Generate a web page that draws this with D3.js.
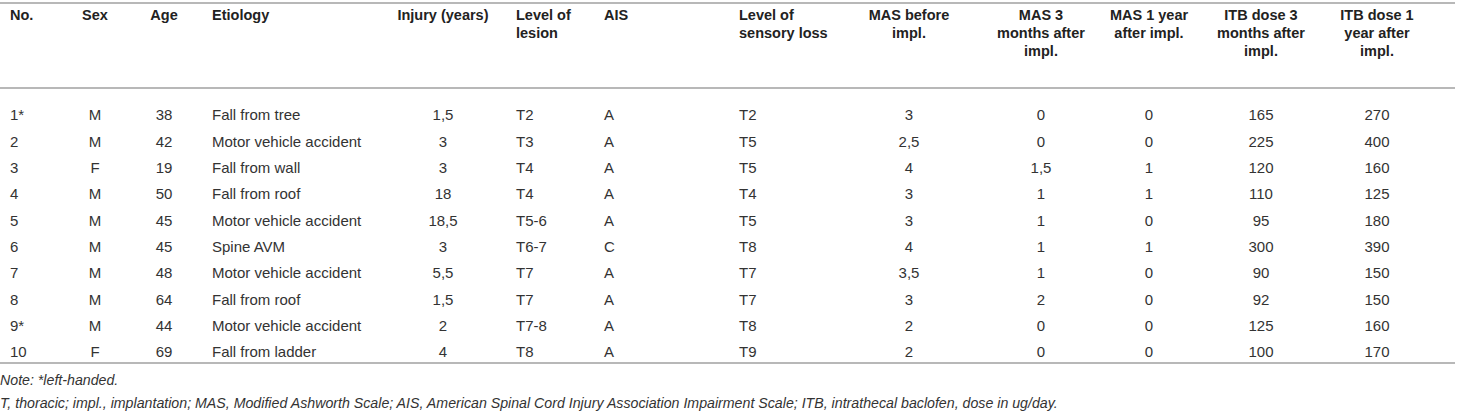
<!DOCTYPE html>
<html>
<head>
<meta charset="utf-8">
<script src="https://cdn.jsdelivr.net/npm/d3@7"></script>
<style>
  body { margin: 0; background: #fff; }
  svg text { font-family: "Liberation Sans", Arial, Helvetica, sans-serif; }
</style>
</head>
<body>
<div id="table"></div>
<script>
// Table content
const headers = [
  ["No."], ["Sex"], ["Age"], ["Etiology"], ["Injury (years)"],
  ["Level of", "lesion"], ["AIS"], ["Level of", "sensory loss"],
  ["MAS before", "impl."], ["MAS 3", "months after", "impl."],
  ["MAS 1 year", "after impl."], ["ITB dose 3", "months after", "impl."],
  ["ITB dose 1", "year after", "impl."]
];
const patientNo = ["1*", "2", "3", "4", "5", "6", "7", "8", "9*", "10"];
const sex = ["M", "M", "F", "M", "M", "M", "M", "M", "M", "F"];
const age = [38, 42, 19, 50, 45, 45, 48, 64, 44, 69];
const etiology = ["Fall from tree", "Motor vehicle accident", "Fall from wall", "Fall from roof",
  "Motor vehicle accident", "Spine AVM", "Motor vehicle accident", "Fall from roof",
  "Motor vehicle accident", "Fall from ladder"];
const injuryYears = ["1,5", "3", "3", "18", "18,5", "3", "5,5", "1,5", "2", "4"];
const lesionLevel = ["T2", "T3", "T4", "T4", "T5-6", "T6-7", "T7", "T7", "T7-8", "T8"];
const ais = ["A", "A", "A", "A", "A", "C", "A", "A", "A", "A"];
const sensoryLevel = ["T2", "T5", "T5", "T4", "T5", "T8", "T7", "T7", "T8", "T9"];
const masBefore = ["3", "2,5", "4", "3", "3", "4", "3,5", "3", "2", "2"];
const mas3m = ["0", "0", "1,5", "1", "1", "1", "1", "2", "0", "0"];
const mas1y = ["0", "0", "1", "1", "0", "1", "0", "0", "0", "0"];
const itb3m = [165, 225, 120, 110, 95, 300, 90, 92, 125, 100];
const itb1y = [270, 400, 160, 125, 180, 390, 150, 150, 160, 170];
const notes = [
  "Note: *left-handed.",
  "T, thoracic; impl., implantation; MAS, Modified Ashworth Scale; AIS, American Spinal Cord Injury Association Impairment Scale; ITB, intrathecal baclofen, dose in ug/day."
];

const columns = [patientNo, sex, age, etiology, injuryYears, lesionLevel, ais,
  sensoryLevel, masBefore, mas3m, mas1y, itb3m, itb1y];

// Layout (anchor x and alignment of each column)
const colX = [10, 95, 164, 212, 443, 516, 604, 739, 909, 1041, 1149, 1261, 1377];
const colAnchor = ["start", "middle", "middle", "start", "middle", "start", "start",
  "start", "middle", "middle", "middle", "middle", "middle"];

const width = 1458, height = 415;
const svg = d3.select("#table").append("svg")
  .attr("width", width)
  .attr("height", height);

const x = d3.scaleOrdinal().domain(d3.range(columns.length)).range(colX);
const y = d3.scalePoint().domain(d3.range(patientNo.length)).range([115, 352]);
const headerLine = d3.scaleLinear().domain([0, 1]).range([15, 33]);

// Rules
const rules = [3, 88, 363];
svg.selectAll("line.rule")
  .data(rules)
  .enter().append("line")
  .attr("class", "rule")
  .attr("x1", 0).attr("x2", 1455)
  .attr("y1", d => d).attr("y2", d => d)
  .attr("stroke", "#a0a0a0")
  .attr("stroke-width", 1.5);

// Header
const head = svg.selectAll("text.head")
  .data(headers)
  .enter().append("text")
  .attr("class", "head")
  .attr("text-anchor", (d, i) => colAnchor[i])
  .style("font-size", "14.5px")
  .style("font-weight", "bold")
  .style("fill", "#222");
head.selectAll("tspan")
  .data((d, i) => d.map((t, j) => ({ t, j, i })))
  .enter().append("tspan")
  .attr("x", d => x(d.i))
  .attr("y", d => headerLine(d.j) + 5)
  .text(d => d.t);

// Body cells
columns.forEach((col, ci) => {
  svg.selectAll(`text.c${ci}`)
    .data(col)
    .enter().append("text")
    .attr("class", `c${ci}`)
    .attr("x", x(ci))
    .attr("y", (d, ri) => y(ri) + 5.3)
    .attr("text-anchor", colAnchor[ci])
    .style("font-size", "15px")
    .style("fill", "#333")
    .text(d => d);
});

// Footnotes
svg.selectAll("text.note")
  .data(notes)
  .enter().append("text")
  .attr("class", "note")
  .attr("x", 0)
  .attr("y", (d, i) => 385 + i * 23)
  .style("font-size", "14.2px")
  .style("font-style", "italic")
  .style("fill", "#333")
  .text(d => d);
</script>
</body>
</html>
